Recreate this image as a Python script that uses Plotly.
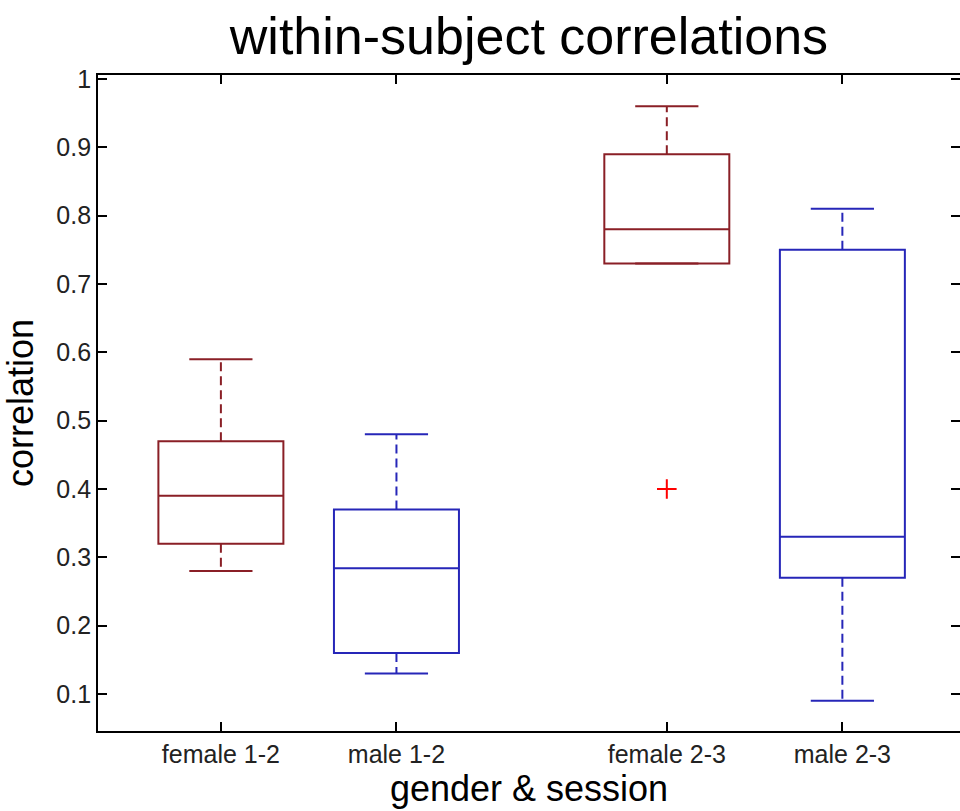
import plotly.graph_objects as go

groups = ["female 1-2", "male 1-2", "female 2-3", "male 2-3"]
positions = [1, 2, 3.54, 4.54]
lower_whisker = [0.28, 0.13, 0.73, 0.09]
q1 = [0.32, 0.16, 0.73, 0.27]
median = [0.39, 0.284, 0.78, 0.33]
q3 = [0.47, 0.37, 0.89, 0.75]
upper_whisker = [0.59, 0.48, 0.96, 0.81]
colors = ["#8a1f26", "#2626b8", "#8a1f26", "#2626b8"]

outlier_group = ["female 2-3"]
outlier_value = [0.40]

y_ticks = [0.1, 0.2, 0.3, 0.4, 0.5, 0.6, 0.7, 0.8, 0.9, 1.0]
y_ticktext = ["0.1", "0.2", "0.3", "0.4", "0.5", "0.6", "0.7", "0.8", "0.9", "1"]

FONT = "Liberation Sans, Arial, Helvetica, sans-serif"
BOX_W = 0.712
CAP_HALF = 0.18

fig = go.Figure()

for i, g in enumerate(groups):
    p = positions[i]
    c = colors[i]
    fig.add_trace(go.Box(
        x=[p], q1=[q1[i]], median=[median[i]], q3=[q3[i]],
        lowerfence=[q1[i]], upperfence=[q3[i]],
        width=BOX_W, line=dict(color=c, width=2),
        fillcolor="rgba(0,0,0,0)", boxpoints=False, showlegend=False,
        name=g, hoverinfo="skip",
    ))
    # dashed whiskers
    fig.add_trace(go.Scatter(
        x=[p, p, None, p, p],
        y=[q3[i], upper_whisker[i], None, q1[i], lower_whisker[i]],
        mode="lines", line=dict(color=c, width=2, dash="9px,5px"),
        showlegend=False, hoverinfo="skip",
    ))
    # caps
    fig.add_trace(go.Scatter(
        x=[p - CAP_HALF, p + CAP_HALF, None, p - CAP_HALF, p + CAP_HALF],
        y=[upper_whisker[i], upper_whisker[i], None, lower_whisker[i], lower_whisker[i]],
        mode="lines", line=dict(color=c, width=2),
        showlegend=False, hoverinfo="skip",
    ))

fig.add_trace(go.Scatter(
    x=[positions[groups.index(g)] for g in outlier_group], y=outlier_value,
    mode="markers",
    marker=dict(symbol="cross-thin", size=14, line=dict(color="#ff0000", width=2)),
    showlegend=False, hoverinfo="skip",
))

# invisible trace to activate right-side tick axis
fig.add_trace(go.Scatter(x=[positions[0]], y=[0.5], yaxis="y2", mode="markers",
                         marker=dict(opacity=0), showlegend=False, hoverinfo="skip"))

yrange = [0.0458, 1.0059]

fig.update_layout(
    width=960, height=811,
    margin=dict(l=98, r=0, t=75, b=80),
    paper_bgcolor="white", plot_bgcolor="white",
    font=dict(family=FONT, color="#000"),
    title=dict(text="within-subject correlations", x=0.551, xanchor="center",
               y=0.956, yanchor="middle", font=dict(size=52, color="#000", family=FONT)),
    xaxis=dict(
        range=[0.3, 5.21], tickmode="array", tickvals=positions, ticktext=groups,
        ticks="inside", ticklen=9, tickwidth=1.5, tickcolor="#000",
        showline=True, linecolor="#000", linewidth=1.8, mirror="ticks",
        showgrid=False, zeroline=False,
        tickfont=dict(size=25, color="#222", family=FONT),
        title=dict(text="gender & session", font=dict(size=36, color="#000", family=FONT), standoff=8),
    ),
    yaxis=dict(
        range=yrange, tickmode="array", tickvals=y_ticks, ticktext=y_ticktext,
        ticks="inside", ticklen=9, tickwidth=1.5, tickcolor="#000",
        showline=True, linecolor="#000", linewidth=1.8, mirror=False,
        showgrid=False, zeroline=False,
        tickfont=dict(size=25, color="#222", family=FONT),
        title=dict(text="correlation", font=dict(size=36, color="#000", family=FONT), standoff=14),
    ),
    yaxis2=dict(
        range=yrange, overlaying="y", side="right", tickmode="array", tickvals=y_ticks,
        ticks="inside", ticklen=9, tickwidth=1.5, tickcolor="#000",
        showticklabels=False, showline=False, showgrid=False, zeroline=False,
    ),
)

fig.write_html("out.html")
